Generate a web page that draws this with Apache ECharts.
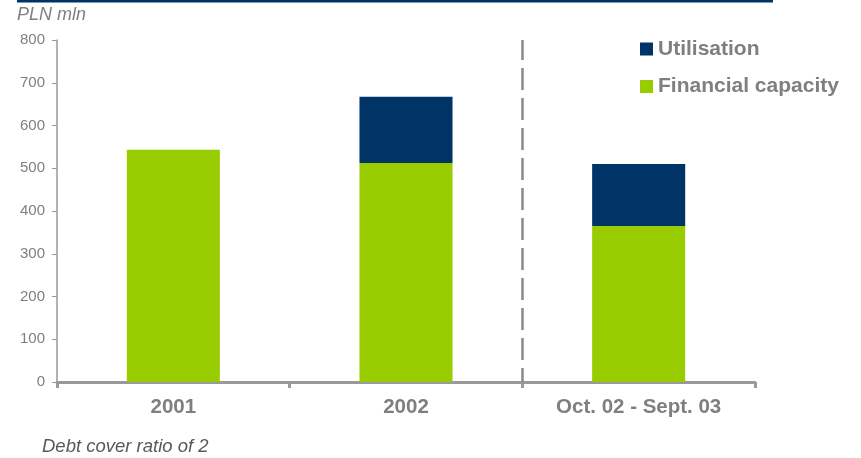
<!DOCTYPE html>
<html><head><meta charset="utf-8">
<script src="https://cdn.jsdelivr.net/npm/echarts@6/dist/echarts.min.js"></script>
<style>html,body{margin:0;padding:0;background:#fff}#c{width:861px;height:458px}</style>
</head><body><div id="c"></div>
<script>
const categories = ['2001', '2002', 'Oct. 02 - Sept. 03'];
const financialCapacity = [543, 512, 365];
const utilisation = [0, 155, 145];
const yTicks = [0, 100, 200, 300, 400, 500, 600, 700, 800];

const chart = echarts.init(document.getElementById('c'), null, {renderer: 'canvas'});
const gray = '#7f7f7f';
const ff = 'Arial, "Liberation Sans", sans-serif';
chart.setOption({
  animation: false,
  backgroundColor: '#fff',
  grid: {left: 57, right: 106, top: 40, bottom: 76, containLabel: false},
  graphic: [
    {type: 'rect', shape: {x: 17, y: 0, width: 756, height: 2.5}, style: {fill: '#003366'}},
    {type: 'text', left: 17, top: 6, style: {text: 'PLN mln', font: 'italic 18px ' + ff, fill: gray}},
    {type: 'text', left: 42, top: 437, style: {text: 'Debt cover ratio of 2', font: 'italic 18.5px ' + ff, fill: '#595959'}}
  ],
  legend: {
    orient: 'vertical', left: 640, top: 38.5, padding: 0, itemWidth: 13, itemHeight: 13, itemGap: 16.5,
    textStyle: {fontSize: 21, fontWeight: 'bold', color: gray, fontFamily: ff},
    data: [{name: 'Utilisation', icon: 'rect'}, {name: 'Financial capacity', icon: 'rect'}]
  },
  xAxis: [{
    type: 'category', data: categories,
    axisLine: {lineStyle: {color: '#999', width: 3}},
    axisTick: {show: true, alignWithLabel: false, length: 6, lineStyle: {color: '#999', width: 3}},
    axisLabel: {margin: 15, fontSize: 20.5, fontWeight: 'bold', color: gray, fontFamily: ff}
  }, {
    type: 'value', min: 0, max: 3, show: false
  }],
  yAxis: {
    type: 'value', min: 0, max: 800, interval: 100,
    splitLine: {show: false},
    axisLine: {show: true, lineStyle: {color: '#999', width: 1.5}},
    axisTick: {show: true, length: 5, lineStyle: {color: '#999'}},
    axisLabel: {margin: 12, fontSize: 15, color: gray, fontFamily: ff,
      formatter: v => yTicks.includes(v) ? String(v) : ''}
  },
  series: [
    {name: 'Financial capacity', type: 'bar', stack: 's', data: financialCapacity, barWidth: '40%',
     itemStyle: {color: '#99cc00'}},
    {name: 'Utilisation', type: 'bar', stack: 's', data: utilisation, barWidth: '40%',
     itemStyle: {color: '#003366'}},
    {name: 'divider', type: 'line', xAxisIndex: 1, data: [], silent: true,
     markLine: {symbol: 'none', silent: true, label: {show: false},
       lineStyle: {color: '#8a8a8a', width: 2.5, type: [22, 8], dashOffset: 8},
       data: [{xAxis: 2}]}}
  ]
});
</script></body></html>
